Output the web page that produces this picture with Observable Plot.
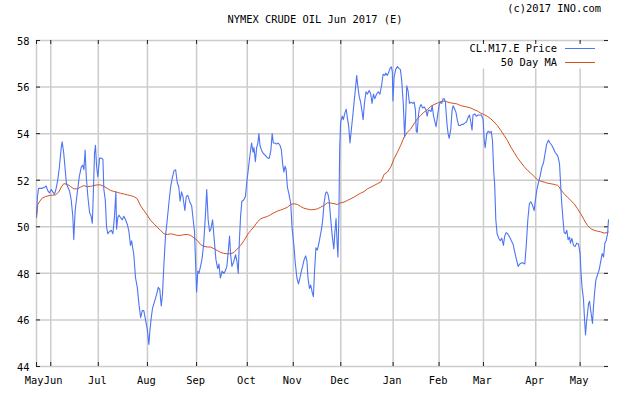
<!DOCTYPE html>
<html>
<head>
<meta charset="utf-8">
<script src="https://cdn.jsdelivr.net/npm/d3@7"></script>
<script src="https://cdn.jsdelivr.net/npm/@observablehq/plot@0.6"></script>
<style>
  html, body { margin: 0; padding: 0; background: #fff; }
  #wrap { position: relative; width: 628px; height: 394px; }
  #overlay { position: absolute; left: 0; top: 0; pointer-events: none; }
  text { font-family: "DejaVu Sans Mono", monospace; }
</style>
</head>
<body>
<div id="wrap"></div>
<script>
// ---- Data (days since 2016-05-23, value) ----
const startDate = "2016-05-23";
const titleText = "NYMEX CRUDE OIL Jun 2017 (E)";
const creditText = "(c)2017 INO.com";
const seriesNames = ["CL.M17.E Price", "50 Day MA"];
const yTicks = [44, 46, 48, 50, 52, 54, 56, 58];
const monthTicks = ["2016-05-23","2016-06-01","2016-07-01","2016-08-01","2016-09-01","2016-10-03","2016-11-01","2016-12-01","2017-01-03","2017-02-01","2017-03-01","2017-04-03","2017-05-01"];
const monthLabels = ["May","Jun","Jul","Aug","Sep","Oct","Nov","Dec","Jan","Feb","Mar","Apr","May"];

const priceData = [
[0,50.5],[0.6,51.3],[1.3,51.65],[3.2,51.65],[5.1,51.7],[6.1,51.75],[7.1,51.55],[8.2,51.45],[9.3,51.6],[10.3,51.5],
[11.4,51.4],[12.4,51.65],[13.4,52.0],[14.5,52.6],[15.6,53.4],[16.2,53.65],[17.2,53.15],[18.1,52.45],[18.9,51.85],[19.8,51.7],
[20.8,51.55],[21.9,51.15],[22.9,50.45],[23.5,49.45],[24.4,50.7],[25.7,51.45],[27.0,52.15],[28.2,52.55],[29.2,52.65],[29.9,52.45],
[30.7,53.3],[31.4,52.15],[32.4,51.3],[33.5,50.6],[34.5,50.45],[35.2,50.15],[35.8,51.3],[36.6,53.15],[37.2,53.5],[37.9,52.6],
[38.7,52.15],[39.8,52.95],[40.8,52.95],[41.9,52.9],[42.5,51.6],[43.4,51.15],[44.2,50.0],[45.0,49.7],[46.1,49.8],[47.2,49.85],
[48.2,49.7],[49.2,50.45],[50.1,51.5],[50.5,49.9],[51.3,50.4],[52.0,50.5],[53.0,50.4],[54.1,50.3],[55.1,50.45],[56.2,50.3],
[57.3,50.1],[58.3,49.8],[59.3,49.2],[60.0,49.4],[61.4,48.8],[62.5,47.8],[63.6,47.4],[64.6,46.7],[65.7,46.1],[66.7,46.4],
[67.7,46.4],[68.8,46.0],[69.9,45.6],[70.9,44.95],[71.5,45.5],[72.4,46.1],[73.2,46.5],[74.5,46.8],[75.8,47.1],[76.8,47.4],
[77.8,47.3],[78.7,46.6],[79.5,47.1],[80.4,48.4],[81.4,49.6],[82.5,50.3],[83.5,51.0],[84.6,51.7],[85.7,52.1],[86.7,52.4],
[87.8,52.45],[88.8,51.9],[89.8,51.7],[90.6,51.1],[91.5,51.5],[92.4,51.3],[93.0,51.0],[93.6,50.7],[94.5,51.3],[95.5,51.35],
[96.8,51.05],[97.9,50.9],[98.7,50.4],[99.7,49.8],[100.4,48.4],[101.0,47.2],[101.8,48.1],[102.5,48.0],[103.5,48.3],[104.4,48.6],
[105.4,49.2],[106.5,50.4],[107.4,51.6],[108.3,50.3],[109.2,49.8],[110.0,49.9],[111.1,50.3],[112.2,49.4],[113.2,48.6],[114.3,48.2],
[115.1,48.4],[116.0,47.8],[117.1,48.1],[118.2,48.0],[119.1,48.1],[120.1,48.3],[121.2,49.1],[121.8,49.6],[122.5,48.8],[123.3,48.3],
[124.4,48.5],[125.6,48.8],[126.5,48.5],[127.3,48.0],[128.0,49.4],[128.8,50.5],[129.6,51.1],[130.7,51.15],[131.8,51.3],[132.8,52.0],
[133.8,52.55],[134.9,53.2],[135.7,53.6],[136.6,53.2],[137.2,53.4],[138.1,52.8],[138.9,53.4],[139.7,53.6],[140.3,54.0],[141.0,53.5],
[141.9,53.3],[143.1,53.15],[144.6,53.05],[146.0,52.95],[146.9,52.95],[147.9,53.3],[148.7,54.0],[149.4,53.6],[150.3,53.6],[151.5,53.55],
[152.5,53.6],[153.6,53.5],[154.5,53.3],[155.3,52.7],[156.1,52.35],[156.8,52.6],[157.5,52.45],[158.3,51.7],[159.3,51.4],[160.4,51.0],
[161.3,49.9],[162.4,49.2],[163.2,48.5],[164.3,47.8],[165.3,47.55],[166.2,47.8],[167.1,48.1],[167.9,48.3],[168.7,48.55],[169.8,48.75],
[170.6,48.55],[171.3,47.8],[172.2,47.35],[173.0,47.5],[173.9,47.2],[174.7,47.0],[175.5,48.2],[176.3,49.1],[177.2,49.0],[178.2,49.3],
[179.0,49.6],[179.8,49.9],[180.6,50.3],[181.4,51.0],[182.4,51.45],[183.1,51.5],[183.9,51.4],[184.7,51.1],[185.6,50.35],[186.6,49.6],
[187.6,49.05],[188.3,49.8],[189.0,50.35],[189.6,49.4],[190.2,48.7],[190.8,50.5],[191.3,53.4],[191.9,54.5],[192.9,54.75],[193.6,54.6],
[194.4,54.85],[195.4,55.05],[196.1,54.7],[197.0,54.3],[197.8,53.6],[198.7,54.2],[199.6,54.8],[200.3,55.3],[201.2,55.9],[202.0,56.5],
[202.8,56.0],[203.6,55.6],[204.5,55.35],[205.5,54.9],[206.1,54.6],[206.9,55.3],[207.9,55.8],[208.8,55.7],[209.9,55.85],[210.9,55.7],
[211.7,55.3],[212.6,55.7],[213.4,55.5],[214.6,55.7],[215.6,55.8],[216.7,55.7],[217.8,56.1],[218.7,56.55],[219.7,56.5],[220.3,56.6],
[221.3,56.5],[222.1,56.6],[223.0,56.8],[223.9,56.87],[224.5,56.65],[224.9,55.4],[225.6,56.4],[226.6,56.75],[227.7,56.88],[228.7,56.8],
[229.6,56.75],[230.4,56.3],[231.4,55.3],[232.3,53.85],[233.0,54.9],[233.6,56.05],[234.4,55.85],[235.3,55.3],[236.3,55.35],[237.4,55.3],
[238.3,55.35],[239.1,55.0],[239.6,54.1],[240.2,54.05],[241.0,54.8],[241.6,55.1],[242.6,55.25],[243.7,55.1],[244.6,55.15],[245.6,55.05],
[246.5,54.75],[247.2,55.0],[248.1,55.0],[248.9,54.95],[249.7,55.2],[250.4,54.8],[251.4,54.5],[252.1,54.3],[252.9,54.7],[254.0,55.2],
[254.7,55.35],[255.7,55.3],[256.5,55.5],[257.3,55.5],[258.0,55.35],[259.0,54.4],[259.7,54.0],[260.4,53.8],[261.4,54.2],[262.2,55.0],
[262.9,55.2],[263.9,55.05],[264.7,54.9],[265.6,54.55],[266.4,54.35],[267.4,54.35],[268.3,54.4],[269.3,54.4],[270.2,54.45],[271.3,54.5],
[272.3,54.7],[273.2,54.8],[274.0,54.5],[274.8,54.15],[275.4,54.8],[276.5,54.85],[277.5,54.75],[278.6,54.8],[279.7,54.8],[280.7,54.8],
[281.8,54.6],[282.5,53.7],[283.1,53.4],[284.1,54.0],[285.0,54.1],[286.0,54.05],[286.9,54.1],[287.7,53.7],[288.5,52.35],[289.1,51.8],
[289.8,50.3],[290.6,49.7],[291.7,49.5],[292.6,49.4],[293.6,49.5],[294.6,49.2],[295.4,49.6],[296.3,49.75],[297.3,49.7],[298.6,49.55],
[299.6,49.4],[300.7,49.25],[301.8,48.9],[302.8,48.6],[303.9,48.3],[304.9,48.4],[306.0,48.45],[307.0,48.45],[308.1,48.4],[309.0,49.2],
[310.0,50.3],[311.0,51.0],[311.9,51.07],[312.8,50.95],[314.0,50.7],[314.7,51.1],[315.7,51.6],[316.7,51.9],[317.7,52.15],[318.8,52.55],
[319.9,52.75],[320.9,53.15],[321.9,53.55],[323.0,53.72],[324.0,53.6],[325.1,53.5],[326.2,53.35],[327.2,53.2],[328.3,53.1],[329.1,53.0],
[330.0,52.7],[330.8,51.7],[331.4,51.0],[332.1,50.4],[332.9,49.75],[333.8,49.7],[334.6,49.85],[335.4,49.45],[336.3,49.55],[336.9,49.3],
[337.8,49.5],[338.8,49.2],[339.8,49.15],[340.9,49.3],[342.0,49.25],[343.0,48.85],[343.6,48.0],[344.2,47.4],[345.1,46.9],[345.8,46.0],
[346.4,45.35],[347.0,45.9],[347.7,46.3],[348.3,46.7],[348.9,46.8],[349.6,46.45],[350.2,46.15],[350.8,45.85],[351.4,46.55],[352.1,47.15],
[352.9,47.7],[354.0,47.95],[355.0,48.15],[356.1,48.55],[356.9,48.85],[357.8,48.7],[358.6,49.3],[359.4,49.4],[360.3,49.7],[360.9,50.3]
];

const maData = [
[0,50.4],[0.8,50.95],[2.1,51.1],[3.6,51.23],[5.7,51.3],[8.8,51.35],[12.0,51.37],[14.1,51.5],[15.6,51.7],[17.2,51.85],
[19.4,51.83],[21.5,51.73],[23.5,51.63],[25.7,51.63],[27.8,51.7],[29.9,51.77],[32.0,51.72],[34.1,51.74],[36.2,51.77],[38.3,51.8],
[40.4,51.8],[42.5,51.74],[44.6,51.65],[46.7,51.56],[48.8,51.52],[50.9,51.48],[53.0,51.44],[55.1,51.41],[57.3,51.37],[59.3,51.34],
[61.4,51.3],[63.6,51.2],[65.7,50.9],[67.7,50.7],[69.9,50.5],[72.0,50.27],[74.1,50.13],[76.2,49.98],[78.3,49.84],[80.4,49.7],
[82.5,49.67],[84.6,49.7],[86.7,49.67],[88.8,49.63],[90.9,49.63],[93.0,49.66],[95.1,49.67],[97.2,49.63],[99.3,49.53],[101.5,49.41],
[103.5,49.24],[105.6,49.16],[107.8,49.13],[109.8,49.13],[111.9,49.06],[114.1,48.98],[116.2,48.9],[118.2,48.86],[120.4,48.84],[122.5,48.84],
[124.6,48.9],[126.7,49.05],[128.8,49.2],[130.9,49.4],[133.0,49.65],[135.1,49.84],[137.2,50.0],[139.3,50.2],[141.4,50.34],[143.5,50.4],
[145.6,50.44],[147.7,50.52],[149.8,50.6],[152.0,50.67],[154.0,50.72],[156.1,50.77],[158.3,50.84],[160.4,50.96],[162.4,50.99],[164.6,50.96],
[166.7,50.87],[168.7,50.8],[170.9,50.76],[173.0,50.73],[175.1,50.74],[177.2,50.77],[179.3,50.84],[181.4,50.92],[183.5,51.03],[185.6,51.02],
[187.7,50.99],[189.8,50.96],[191.9,51.03],[194.0,51.06],[196.1,51.13],[198.2,51.2],[200.3,51.27],[202.5,51.37],[204.5,51.44],[206.6,51.51],
[208.8,51.63],[210.9,51.7],[212.9,51.77],[215.1,51.85],[217.2,51.92],[218.2,52.06],[219.3,52.25],[221.4,52.35],[223.5,52.56],[225.6,52.92],
[227.7,53.2],[229.8,53.5],[231.9,53.85],[234.0,54.06],[236.1,54.2],[238.2,54.42],[240.3,54.64],[242.4,54.78],[244.5,54.92],[246.7,55.04],
[248.7,55.17],[250.8,55.25],[253.0,55.31],[255.0,55.38],[257.1,55.4],[259.3,55.36],[261.4,55.32],[263.4,55.3],[265.6,55.27],[267.7,55.2],
[269.8,55.17],[271.9,55.14],[274.0,55.1],[276.1,55.03],[278.2,54.97],[280.3,54.88],[282.4,54.82],[284.5,54.74],[286.6,54.64],[288.7,54.5],
[290.8,54.35],[292.9,54.14],[295.0,53.93],[297.1,53.71],[299.2,53.43],[301.3,53.2],[303.5,52.96],[305.5,52.78],[307.6,52.59],[309.8,52.42],
[311.9,52.3],[314.0,52.16],[316.1,52.02],[318.2,51.96],[320.3,51.92],[322.4,51.87],[324.5,51.85],[326.6,51.82],[328.7,51.78],[329.7,51.72],
[330.8,51.59],[332.9,51.42],[335.0,51.27],[337.1,51.13],[339.2,50.99],[341.3,50.78],[343.4,50.56],[345.5,50.3],[347.6,50.06],[349.7,49.92],
[351.8,49.85],[354.0,49.81],[356.1,49.78],[358.1,49.73],[360.3,49.75],[360.9,49.78]
];

// ---- Build ----
const t0 = new Date(startDate + "T00:00:00Z").getTime();
const toDate = d => new Date(t0 + d * 864e5);
const price = priceData.map(([d, v]) => ({date: toDate(d), value: v}));
const ma = maData.map(([d, v]) => ({date: toDate(d), value: v}));
const ticks = monthTicks.map((s, i) => ({date: new Date(s + "T00:00:00Z"), label: monthLabels[i]}));
const firstTick = ticks.slice(0, 1), secondTick = ticks.slice(1, 2), otherTicks = ticks.slice(2);

const W = 628, H = 394, mL = 36, mR = 20, mT = 40, mB = 28;
const pw = W - mL - mR, ph = H - mT - mB;
const blue = "#4d74f4", orange = "#d2521e", grid = "#cccccc";
const font = "DejaVu Sans Mono";
const fs = 10.4;

const chart = Plot.plot({
  width: W, height: H,
  marginLeft: mL, marginRight: mR, marginTop: mT, marginBottom: mB,
  x: {type: "utc", domain: d3.extent(price, d => d.date), axis: null},
  y: {domain: [44, 58], axis: null},
  style: {fontFamily: font, fontSize: fs + "px", background: "#fff", overflow: "visible"},
  marks: [
    Plot.ruleY(yTicks, {stroke: grid, strokeWidth: 1.5}),
    Plot.ruleX(ticks, {x: "date", stroke: grid, strokeWidth: 1.5}),
    Plot.frame({fill: "white", stroke: "none", insetLeft: 426, insetRight: 1, insetTop: 1.5, insetBottom: ph - 28}),
    Plot.ruleX(ticks, {x: "date", stroke: "#222", strokeWidth: 1, insetBottom: ph - 4}),
    Plot.ruleX(ticks, {x: "date", stroke: "#222", strokeWidth: 1, insetTop: ph - 4}),
    Plot.ruleY(yTicks, {stroke: "#222", strokeWidth: 1, insetRight: pw - 4}),
    Plot.ruleY(yTicks, {stroke: "#222", strokeWidth: 1, insetLeft: pw - 4}),
    Plot.line(ma, {x: "date", y: "value", stroke: orange, strokeWidth: 1}),
    Plot.line(price, {x: "date", y: "value", stroke: blue, strokeWidth: 1.1}),
    Plot.text(yTicks, {y: d => d, frameAnchor: "left", dx: -7, dy: 1, textAnchor: "end", text: d => String(d), fontFamily: font, fontSize: fs, fill: "#000"}),
    Plot.text(firstTick, {x: "date", frameAnchor: "bottom", dy: 17, dx: 7, textAnchor: "end", text: "label", fontFamily: font, fontSize: fs, fill: "#000"}),
    Plot.text(secondTick, {x: "date", frameAnchor: "bottom", dy: 17, dx: -7, textAnchor: "start", text: "label", fontFamily: font, fontSize: fs, fill: "#000"}),
    Plot.text(otherTicks, {x: "date", frameAnchor: "bottom", dy: 17, dx: -1, text: "label", fontFamily: font, fontSize: fs, fill: "#000"})
  ]
});
const wrap = document.getElementById("wrap");
wrap.appendChild(chart);

// Title, credit and legend overlay
const ns = "http://www.w3.org/2000/svg";
const ov = document.createElementNS(ns, "svg");
ov.setAttribute("id", "overlay");
ov.setAttribute("width", W); ov.setAttribute("height", H);
function addText(x, y, s, anchor) {
  const t = document.createElementNS(ns, "text");
  t.setAttribute("x", x); t.setAttribute("y", y);
  t.setAttribute("text-anchor", anchor);
  t.setAttribute("dominant-baseline", "central");
  t.setAttribute("font-size", fs + "px");
  t.setAttribute("font-family", font);
  t.setAttribute("fill", "#000");
  t.textContent = s;
  ov.appendChild(t);
}
function addLine(x1, x2, y, c) {
  const l = document.createElementNS(ns, "line");
  l.setAttribute("x1", x1); l.setAttribute("x2", x2);
  l.setAttribute("y1", y); l.setAttribute("y2", y);
  l.setAttribute("stroke", c); l.setAttribute("stroke-width", 1);
  ov.appendChild(l);
}
addText(315, 19, titleText, "middle");
addText(601, 8, creditText, "end");
addText(557, 48, seriesNames[0], "end");
addText(557, 62, seriesNames[1], "end");
addLine(565, 595, 48.5, blue);
addLine(565, 595, 62.5, orange);
wrap.appendChild(ov);
</script>
</body>
</html>
